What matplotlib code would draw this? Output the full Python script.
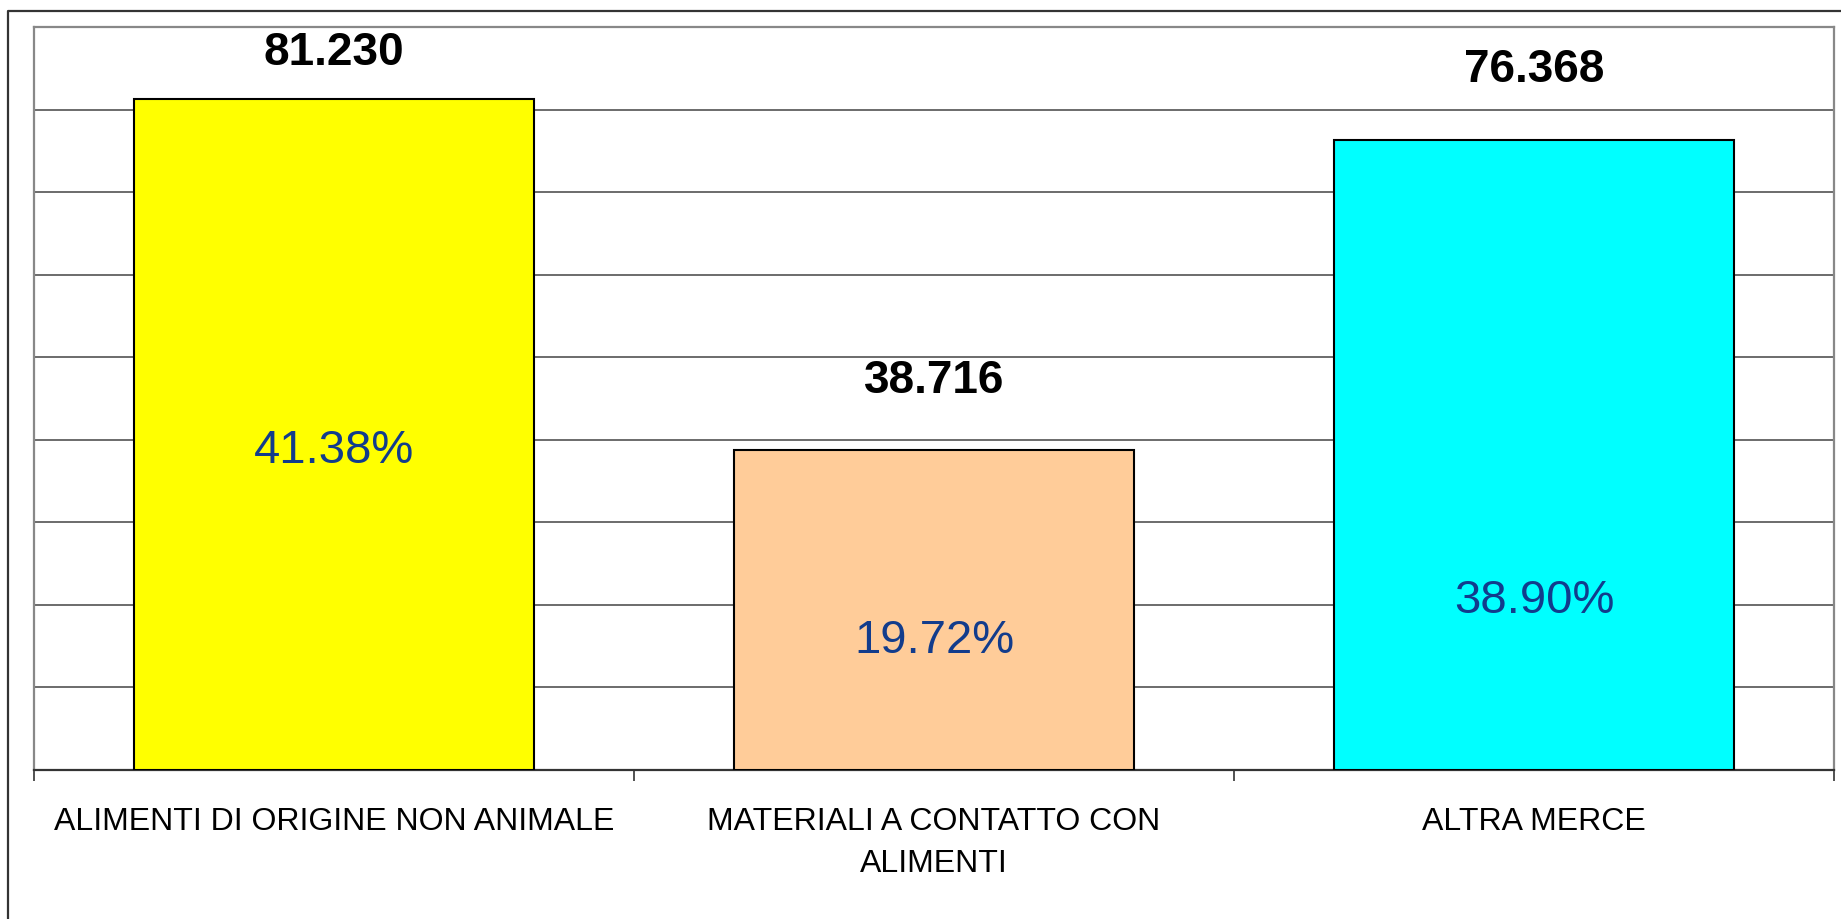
import matplotlib
matplotlib.use("Agg")
import matplotlib.pyplot as plt
from matplotlib.lines import Line2D

categories = ["ALIMENTI DI ORIGINE NON ANIMALE", "MATERIALI A CONTATTO CON\nALIMENTI", "ALTRA MERCE"]
values = [81230, 38716, 76368]
value_labels = ["81.230", "38.716", "76.368"]
pct_labels = ["41.38%", "19.72%", "38.90%"]

# layout (not data)
bar_colors = ["#FFFF00", "#FFCC99", "#00FFFF"]
pct_label_y = [38700, 15600, 20500]

plt.rcParams['font.family'] = ['Liberation Sans', 'DejaVu Sans']

W, H = 1841, 919
fig = plt.figure(figsize=(W / 100, H / 100), dpi=100)
ax = fig.add_axes([34 / W, 1 - 770 / H, 1800 / W, (770 - 27) / H])

x = list(range(len(categories)))
ax.bar(x, values, width=0.667, color=bar_colors, edgecolor="black", linewidth=1.5, zorder=3)

ax.set_xlim(-0.5, 2.5)
ax.set_ylim(0, 90000)
ax.set_yticks(range(0, 90001, 10000))
ax.yaxis.grid(True, color="#444444", linewidth=1.1, zorder=0)
ax.tick_params(axis="y", length=0, labelleft=False)

ax.set_xticks(x)
ax.set_xticklabels(categories, fontsize=23, linespacing=1.5)
ax.set_xticks([-0.5, 0.5, 1.5, 2.5], minor=True)
ax.tick_params(axis="x", which="major", length=0, pad=27)
ax.tick_params(axis="x", which="minor", length=8, width=1.2, color="#333333", direction="out")

for s in ["left", "right", "top"]:
    ax.spines[s].set_color("#888888")
    ax.spines[s].set_linewidth(1.6)
ax.spines["bottom"].set_color("#333333")
ax.spines["bottom"].set_linewidth(1.6)

for xi, v, lab, pl, py in zip(x, values, value_labels, pct_labels, pct_label_y):
    ty = min(v + 8400, 86800)
    ax.text(xi, ty, lab, ha="center", va="center", fontsize=33, fontweight="bold", color="black", zorder=4)
    ax.text(xi, py, pl, ha="center", va="center", fontsize=34, color="#123C8C", zorder=4)

# outer chart border
fig.add_artist(Line2D([8 / W, 8 / W, 1.0], [0.0, 1 - 11 / H, 1 - 11 / H],
                      transform=fig.transFigure, color="#333333", linewidth=1.6))

fig.savefig("out.png", dpi=100)
